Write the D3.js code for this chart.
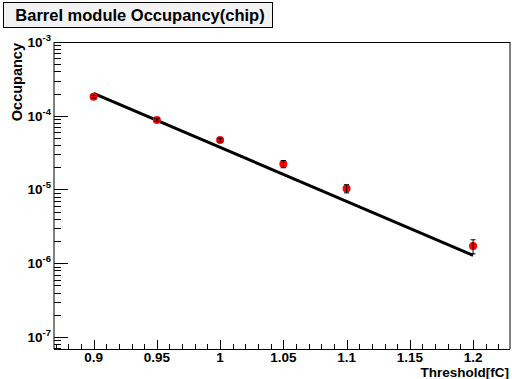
<!DOCTYPE html>
<html><head><meta charset="utf-8">
<script src="https://cdn.jsdelivr.net/npm/d3@7"></script>
<style>html,body{margin:0;padding:0;background:#fff;}svg{display:block;}</style>
</head><body>
<svg id="c" width="512" height="379"></svg>
<script>
// Data
const thresholds = [0.9, 0.95, 1.0, 1.05, 1.1, 1.2];
const occupancy  = [1.81e-4, 8.75e-5, 4.69e-5, 2.22e-5, 1.03e-5, 1.71e-6];
const occErr     = [0.8e-5, 0.35e-5, 0.25e-5, 0.25e-5, 0.13e-5, 0.37e-6];
const fitX = [0.9, 1.2];
const fitY = [2.01e-4, 1.28e-6];
const xTicks = [0.9, 0.95, 1.0, 1.05, 1.1, 1.15, 1.2];
const xTickLabels = ["0.9", "0.95", "1", "1.05", "1.1", "1.15", "1.2"];
const yTickExps = [-7, -6, -5, -4, -3];
const titleText = "Barrel module Occupancy(chip)";
const xTitle = "Threshold[fC]";
const yTitle = "Occupancy";

const svg = d3.select("#c");
const L = 54, R = 510, T = 42, B = 349;
const x = d3.scaleLinear().domain([0.8687, 1.2292]).range([L, R]);
const y = d3.scaleLog().domain([6.87e-8, 1e-3]).range([B, T]);
const font = "'Liberation Sans', Arial, Helvetica, sans-serif";

// Title box
svg.append("rect").attr("x", 3.5).attr("y", 2.5).attr("width", 269).attr("height", 25)
  .attr("fill", "#f2f2f2").attr("stroke", "#000").attr("stroke-width", 1);
svg.append("text").attr("x", 140).attr("y", 21).attr("text-anchor", "middle")
  .attr("font-family", font).attr("font-weight", "bold").attr("font-size", 16.5)
  .attr("fill", "#000").text(titleText);

// Frame
const g = svg.append("g");
g.append("line").attr("x1", L).attr("x2", L).attr("y1", T).attr("y2", B).attr("stroke", "#000");
g.append("line").attr("x1", R).attr("x2", R).attr("y1", T).attr("y2", B).attr("stroke", "#000");
g.append("line").attr("x1", L).attr("x2", R).attr("y1", T + 0.5).attr("y2", T + 0.5).attr("stroke", "#000");
g.append("line").attr("x1", L).attr("x2", R).attr("y1", B + 0.5).attr("y2", B + 0.5).attr("stroke", "#000");

// X ticks (inward)
const xMinor = d3.range(87, 123).map(d => d / 100).filter(v => x(v) >= L && x(v) <= R);
xMinor.forEach(v => {
  const major = xTicks.some(t => Math.abs(t - v) < 1e-9);
  g.append("line").attr("x1", Math.round(x(v)) + 0.5).attr("x2", Math.round(x(v)) + 0.5)
    .attr("y1", B).attr("y2", B - (major ? 9 : 5)).attr("stroke", "#000");
});
xTicks.forEach((t, i) => {
  g.append("text").attr("x", x(t)).attr("y", 362).attr("text-anchor", "middle")
    .attr("font-family", font).attr("font-weight", "bold").attr("font-size", 13.5)
    .text(xTickLabels[i]);
});
g.append("text").attr("x", 509).attr("y", 377).attr("text-anchor", "end")
  .attr("font-family", font).attr("font-weight", "bold").attr("font-size", 13.5).text(xTitle);

// Y ticks (log, inward)
const yMinorVals = [];
for (let e = -8; e <= -3; e++) for (let m = 1; m <= 9; m++) yMinorVals.push(m * Math.pow(10, e));
yMinorVals.filter(v => v >= 6.87e-8 && v <= 1e-3).forEach(v => {
  const major = Math.abs(Math.log10(v) - Math.round(Math.log10(v))) < 1e-9;
  const yy = Math.round(y(v)) + 0.5;
  g.append("line").attr("x1", L).attr("x2", L + (major ? 14 : 7)).attr("y1", yy).attr("y2", yy).attr("stroke", "#000");
});
yTickExps.forEach(e => {
  const t = g.append("text").attr("x", 51).attr("y", y(Math.pow(10, e)) + 5).attr("text-anchor", "end")
    .attr("font-family", font).attr("font-weight", "bold").attr("font-size", 13.5);
  t.append("tspan").text("10");
  t.append("tspan").attr("dy", -6).attr("font-size", 9.5).text(String(e));
});
g.append("text").attr("transform", `translate(22,${T + 1}) rotate(-90)`).attr("text-anchor", "end")
  .attr("font-family", font).attr("font-weight", "bold").attr("font-size", 14.5).text(yTitle);

// Fit line
const line = d3.line().x(d => x(d[0])).y(d => y(d[1]));
g.append("path").datum(fitX.map((v, i) => [v, fitY[i]])).attr("d", line)
  .attr("fill", "none").attr("stroke", "#000").attr("stroke-width", 3);

// Points + error bars
thresholds.forEach((t, i) => {
  const cx = x(t), lo = y(occupancy[i] - occErr[i]), hi = y(occupancy[i] + occErr[i]);
  g.append("circle").attr("cx", cx).attr("cy", y(occupancy[i])).attr("r", 4).attr("fill", "#ff0000");
  g.append("line").attr("x1", cx).attr("x2", cx).attr("y1", lo).attr("y2", hi).attr("stroke", "#000").attr("stroke-width", 1);
  g.append("line").attr("x1", cx - 2.5).attr("x2", cx + 2.5).attr("y1", hi).attr("y2", hi).attr("stroke", "#000");
  g.append("line").attr("x1", cx - 2.5).attr("x2", cx + 2.5).attr("y1", lo).attr("y2", lo).attr("stroke", "#000");
});
</script>
</body></html>
